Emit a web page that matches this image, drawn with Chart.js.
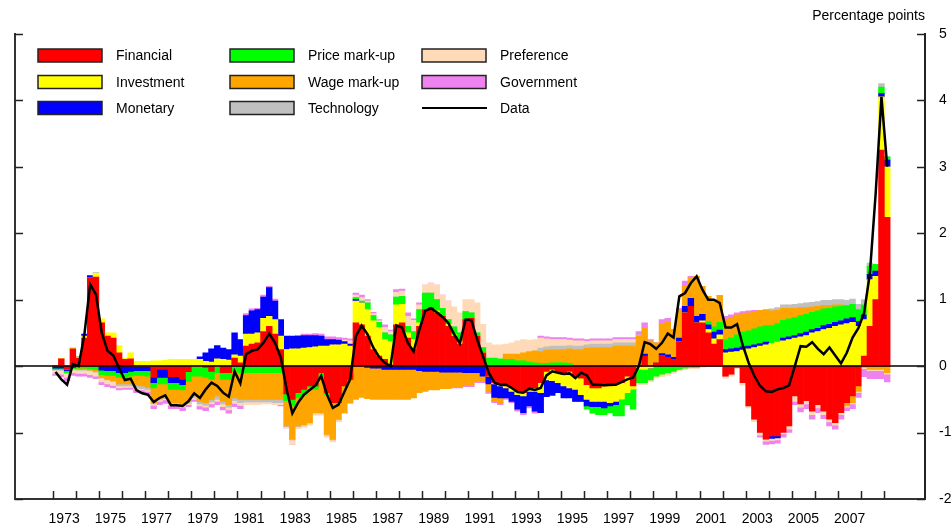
<!DOCTYPE html>
<html>
<head>
<meta charset="utf-8">
<script src="https://cdn.jsdelivr.net/npm/chart.js@4.4.1/dist/chart.umd.min.js"></script>
<style>
  html, body { margin: 0; padding: 0; background: #fff; }
  #grafico { display: block; }
</style>
</head>
<body>
<canvas id="grafico" width="951" height="530"></canvas>
<script>
// quarterly contributions, 1973Q1 .. 2009Q1 (one row per year)
const financial = [
  0, 0.11, -0.05, 0.26,   0.12, 0.42, 1.33, 1.34,   0.65, 0.45, 0.42, 0.2,
  0.1, 0.11, 0, 0,        0, -0.17, -0.05, -0.05,   -0.16, -0.16, -0.2, -0.08,
  0, 0, -0.02, -0.08,     0, -0.1, -0.1, 0.12,      0.05, 0.3, 0.33, 0.35,
  0.52, 0.6, 0.48, 0.25,  -0.42, -0.5, -0.4, -0.35, -0.3, -0.3, -0.1, -0.4,
  -0.55, -0.55, -0.3, -0.2, 0.65, 0.62, 0.45, 0.25, 0.15, 0.1, 0.02, 0.62,
  0.65, 0.42, 0.25, 0.6,  0.85, 0.88, 0.8, 0.75,    0.6, 0.45, 0.33, 0.7,
  0.72, 0.45, 0.2, -0.15, -0.25, -0.28, -0.3, -0.33, -0.38, -0.4, -0.35, -0.33,
  -0.25, -0.08, -0.05, -0.1, -0.12, -0.08, -0.15, -0.18, -0.28, -0.33, -0.33, -0.3,
  -0.3, -0.28, -0.25, -0.15, -0.3, 0, 0.15, 0,      0.05, 0.15, 0.12, 0.1,
  0.37, 0.8, 0.9, 0.65,   0.65, 0.5, 0.33, 0.4,     -0.15, -0.12, -0.02, -0.25,
  -0.6, -0.8, -1.0, -1.1, -1.05, -1.05, -1.0, -0.9, -0.45, -0.57, -0.52, -0.68,
  -0.58, -0.68, -0.8, -0.85, -0.7, -0.55, -0.45, -0.3, 0.15, 0.6, 1.0, 3.25,
  2.24
];
const investment = [
  0, 0, 0, 0.02,          0.02, 0.03, 0, 0.06,      0.06, 0.05, 0.08, 0.11,
  0.02, 0.09, 0.07, 0.07, 0.07, 0.08, 0.08, 0.09,   0.1, 0.1, 0.1, 0.1,
  0.1, 0.1, 0.07, 0.06,   0.11, 0.1, 0.09, 0.05,    0.1, 0.18, 0.15, 0.15,
  0.2, 0.15, 0.22, 0.2,   0.25, 0.26, 0.26, 0.27,   0.28, 0.29, 0.3, 0.3,
  0.32, 0.32, 0.33, 0.3,  0.33, 0.33, 0.4, 0.43,    0.43, 0.3, 0.35, 0.3,
  0.28, 0.08, 0.15, 0.05, 0, 0, 0.03, 0,            0.03, 0.02, 0.05, 0,
  0, 0, 0, 0,             -0.02, -0.02, -0.03, -0.05, -0.05, -0.05, -0.03, -0.05,
  -0.15, -0.13, -0.17, -0.15, -0.18, -0.25, -0.2, -0.25, -0.22, -0.2, -0.2, -0.23,
  -0.25, -0.25, -0.25, -0.25, -0.05, -0.05, -0.05, -0.03, 0, 0, 0, 0,
  0, 0, 0, 0,             0.03, 0.05, 0.08, 0.07,   0.2, 0.21, 0.22, 0.24,
  0.26, 0.28, 0.3, 0.32,  0.34, 0.36, 0.38, 0.4,    0.42, 0.44, 0.46, 0.5,
  0.52, 0.55, 0.57, 0.6,  0.62, 0.64, 0.66, 0.6,    0.55, 0.7, 0.35, 0.8,
  0.76
];
const monetary = [
  -0.03, -0.03, -0.02, -0.02, 0, 0.03, 0.03, 0,     -0.06, -0.07, -0.07, -0.1,
  -0.1, -0.08, -0.07, -0.07, -0.07, -0.08, -0.12, -0.12, -0.09, -0.09, -0.08, 0,
  0, 0.04, 0.13, 0.2,     0.2, 0.17, 0.16, 0.33,    0.25, 0.28, 0.35, 0.35,
  0.32, 0.43, 0.28, 0.25, 0.2, 0.19, 0.19, 0.19,    0.18, 0.17, 0.15, 0.1,
  0.08, 0.07, 0.04, 0.03, 0.02, 0, -0.02, -0.03,    -0.03, -0.05, -0.05, -0.05,
  -0.05, -0.05, -0.05, -0.07, -0.08, -0.08, -0.08, -0.09, -0.09, -0.09, -0.09, -0.1,
  -0.1, -0.1, -0.15, -0.12, -0.2, -0.18, -0.15, -0.15, -0.22, -0.25, -0.22, -0.3,
  -0.3, -0.25, -0.22, -0.15, -0.18, -0.15, -0.18, -0.1, -0.1, -0.08, -0.08, -0.1,
  -0.05, -0.05, 0, 0,     0, 0, 0.03, 0,            0, 0.04, 0.05, 0.03,
  0.05, 0.1, 0.12, 0.1,   0.1, 0.07, 0.1, 0.07,     0.05, 0.05, 0.05, 0.05,
  0.04, 0.04, 0.04, 0.04, -0.04, -0.03, 0.04, 0.04, 0.04, 0.05, 0.05, 0.05,
  0.05, 0.06, 0.06, 0.06, 0.06, 0.07, 0.07, 0.07,   0.07, 0.08, 0.08, 0.05,
  0.1
];
const priceMarkup = [
  -0.02, -0.02, -0.03, -0.02, -0.03, -0.03, -0.04, -0.05, -0.07, -0.07, -0.07, -0.07,
  -0.07, -0.07, -0.07, -0.07, -0.08, -0.08, -0.1, -0.1, -0.1, -0.1, -0.08, -0.15,
  -0.15, -0.15, -0.15, -0.12, -0.1, -0.1, -0.1, -0.08, -0.1, -0.1, -0.1, -0.1,
  -0.1, -0.1, -0.1, -0.1, -0.1, -0.1, -0.08, -0.08,  -0.02, -0.05, -0.08, -0.03,
  0, 0, 0, 0,             0.03, 0.03, 0.1, 0.08,    0.08, 0.1, 0.1, 0.12,
  0.12, 0.1, 0.12, 0.2,   0.25, 0.22, 0.17, 0.12,   0.07, 0.12, 0.12, 0.12,
  0.08, 0.05, 0.08, 0.12, 0.12, 0.11, 0.1, 0.1,     0.08, 0.08, 0.06, 0.05,
  0.04, 0.04, 0.05, 0.05, 0.05, 0.04, 0, 0,         -0.05, -0.1, -0.12, -0.1,
  -0.1, -0.17, -0.25, -0.18, -0.3, -0.2, -0.2, -0.18, -0.15, -0.12, -0.1, -0.08,
  -0.05, -0.03, -0.02, -0.02, 0, 0.05, 0.08, 0.12,  0.15, 0.17, 0.2, 0.22,
  0.23, 0.24, 0.25, 0.25, 0.27, 0.28, 0.27, 0.27,   0.27, 0.27, 0.27, 0.26,
  0.26, 0.25, 0.24, 0.23, 0.22, 0.2, 0.2, 0.18,     0.15, 0.12, 0.1, 0.1,
  0.05
];
const wageMarkup = [
  0, 0, 0, 0,             -0.02, -0.02, -0.02, -0.03, -0.04, -0.06, -0.08, -0.1,
  -0.1, -0.12, -0.15, -0.16, -0.17, -0.22, -0.22, -0.2, -0.2, -0.2, -0.22, -0.3,
  -0.3, -0.38, -0.38, -0.3, -0.35, -0.33, -0.38, -0.4, -0.4, -0.4, -0.4, -0.4,
  -0.4, -0.4, -0.4, -0.4, -0.38, -0.5, -0.42, -0.45, -0.53, -0.35, -0.52, -0.6,
  -0.55, -0.25, -0.4, -0.35, -0.5, -0.47, -0.47, -0.47, -0.47, -0.45, -0.45, -0.45,
  -0.45, -0.45, -0.43, -0.33, -0.3, -0.28, -0.28, -0.25, -0.25, -0.22, -0.22, -0.18,
  -0.18, -0.12, -0.08, -0.12, -0.05, -0.07, 0.08, 0.08, 0.1, 0.12, 0.16, 0.18,
  0.18, 0.2, 0.2, 0.2,    0.2, 0.22, 0.25, 0.25,    0.27, 0.28, 0.28, 0.28,
  0.28, 0.3, 0.3, 0.3,    0.3, 0.45, 0.4, 0.38,     0.3, 0.45, 0.5, 0.42,
  0.43, 0.3, 0.3, 0.6,    0.42, 0.38, 0.4, 0.4,     0.3, 0.3, 0.3, 0.28,
  0.27, 0.26, 0.25, 0.24, 0.22, 0.2, 0.18, 0.16,    0.14, 0.12, 0.1, 0.08,
  0.07, 0.05, 0.04, 0.03, 0.02, -0.05, -0.1, -0.08, -0.02, -0.05, -0.05, -0.05,
  -0.1
];
const technology = [
  -0.01, -0.01, -0.01, -0.01, -0.01, -0.01, -0.01, -0.01, -0.01, -0.01, -0.01, -0.03,
  -0.03, -0.03, -0.04, -0.04, -0.04, -0.02, -0.02, -0.02, -0.02, -0.02, -0.02, -0.03,
  -0.03, -0.04, -0.04, -0.04, -0.05, -0.04, -0.04, -0.04, -0.05, -0.04, -0.04, -0.04,
  -0.04, -0.04, -0.05, -0.05, -0.01, -0.01, -0.01, -0.01, -0.01, -0.01, -0.01, -0.01,
  -0.01, -0.01, -0.01, -0.01, 0, 0, 0, 0,           0, 0, 0, 0,
  0, 0, 0, 0,             0, 0, 0, 0,               0, 0, 0, 0,
  0, 0, 0, 0,             0, 0, 0, 0,               0, 0, 0, 0,
  0.05, 0.05, 0.05, 0.05, 0.05, 0.05, 0.05, 0.05,   0.05, 0.05, 0.05, 0.05,
  0.05, 0.05, 0.05, 0.05, 0.05, 0.02, 0, 0,         0, 0, 0, 0,
  0, 0, 0, 0,             0, 0, 0, 0,               0, 0, 0, 0,
  0, 0, 0, 0,             0.03, 0.04, 0.05, 0.05,   0.06, 0.06, 0.07, 0.07,
  0.07, 0.08, 0.08, 0.08, 0.08, 0.08, 0.08, 0.08,   0.08, 0.05, 0, 0.05,
  0
];
const preference = [
  -0.05, -0.06, -0.06, -0.05, -0.05, -0.05, -0.06, -0.06, -0.06, -0.06, -0.06, -0.03,
  -0.02, -0.02, -0.02, -0.02, -0.02, -0.02, -0.02, -0.02, -0.02, -0.02, -0.02, -0.02,
  -0.02, -0.03, -0.03, -0.03, -0.03, -0.04, -0.04, -0.04, -0.04, -0.04, -0.04, -0.04,
  -0.03, -0.03, -0.03, -0.03, -0.02, -0.07, -0.03, -0.03, -0.03, -0.03, -0.03, -0.03,
  -0.03, -0.03, 0.02, 0.05, 0.04, 0.05, 0.03, 0.03, 0.02, 0.08, 0.05, 0.07,
  0.08, 0.15, 0.17, 0.07, 0.12, 0.15, 0.22, 0.2,    0.28, 0.3, 0.3, 0.18,
  0.2, 0.45, 0.35, 0.23,  0.2, 0.21, 0.15, 0.17,    0.2, 0.2, 0.17, 0.17,
  0.15, 0.12, 0.1, 0.1,   0.1, 0.08, 0.08, 0.08,    0.05, 0.05, 0.05, 0.05,
  0.05, 0.05, 0.05, 0.05, 0.05, -0.03, -0.03, -0.03, -0.03, -0.04, -0.04, -0.03,
  -0.02, -0.02, -0.02, -0.02, -0.02, -0.01, -0.01, -0.01, -0.03, -0.03, -0.02, -0.04,
  -0.03, -0.04, -0.04, -0.03, -0.03, -0.03, -0.02, -0.05, -0.08, -0.05, -0.05, -0.05,
  -0.05, -0.05, -0.04, -0.04, -0.03, -0.02, -0.02, -0.02, -0.02, -0.02, -0.02, -0.02,
  -0.02
];
const government = [
  -0.03, -0.04, -0.05, -0.04, -0.04, -0.04, -0.04, -0.04, -0.04, -0.04, -0.04, -0.03,
  -0.03, -0.03, -0.05, -0.05, -0.05, -0.05, -0.05, -0.05, -0.05, -0.05, -0.05, -0.03,
  -0.03, -0.05, -0.05, -0.05, -0.05, -0.05, -0.05, -0.05, -0.05, 0.03, 0.03, 0.02,
  0.03, 0.02, 0.03, -0.02, 0, 0, 0.01, 0.02,        0.02, 0.03, 0.03, 0.04,
  0.04, 0.04, 0.03, 0.03, 0.03, 0.04, 0.02, 0.02,   0.02, 0.04, 0.02, 0.04,
  0.03, 0.05, 0.02, 0.03, 0, 0, 0, 0,               0, -0.02, -0.02, -0.03,
  -0.03, -0.03, -0.02, -0.02, -0.03, -0.03, -0.02, -0.02, -0.03, -0.03, -0.03, -0.03,
  0.03, 0.03, 0.03, 0.03, 0.03, 0.03, 0.03, 0.03,   0.03, 0.03, 0.03, 0.03,
  0.03, 0.03, 0.03, 0.03, 0.03, 0.05, 0.07, 0.02,   0, 0.06, 0.05, 0,
  0.02, 0.08, 0.03, 0,    0, 0, 0, 0,               0.05, 0.04, 0.03, 0.03,
  0.03, 0.02, -0.03, -0.05, -0.05, -0.05, -0.05, -0.05, -0.05, -0.07, -0.07, -0.07,
  -0.07, -0.06, -0.06, -0.06, -0.07, -0.05, -0.07, -0.07, -0.12, -0.12, -0.12, -0.12,
  -0.12
];
const observed = [
  -0.09, -0.2, -0.28, 0.03, 0.0, 0.48, 1.23, 1.08,  0.5, 0.23, 0.16, -0.03,
  -0.21, -0.19, -0.36, -0.41, -0.43, -0.54, -0.48, -0.44, -0.59, -0.59, -0.6, -0.53,
  -0.41, -0.48, -0.35, -0.25, -0.3, -0.4, -0.46, -0.08, -0.26, 0.18, 0.23, 0.25,
  0.35, 0.49, 0.35, 0.13, -0.35, -0.71, -0.55, -0.43, -0.36, -0.29, -0.15, -0.43,
  -0.63, -0.58, -0.39, -0.2, 0.45, 0.61, 0.48, 0.28, 0.14, 0.05, 0.0, 0.61,
  0.58, 0.35, 0.22, 0.55, 0.83, 0.87, 0.81, 0.74,   0.65, 0.48, 0.34, 0.7,
  0.69, 0.4, 0.15, -0.1,  -0.25, -0.28, -0.28, -0.33, -0.39, -0.4, -0.34, -0.36,
  -0.33, -0.14, -0.08, -0.1, -0.12, -0.11, -0.18, -0.1, -0.14, -0.28, -0.28, -0.29,
  -0.28, -0.28, -0.24, -0.2, -0.17, 0.0, 0.36, 0.33, 0.26, 0.35, 0.49, 0.43,
  1.05, 1.1, 1.25, 1.35,  1.15, 1.0, 1.0, 0.95,     0.58, 0.58, 0.63, 0.31,
  0.05, -0.15, -0.3, -0.38, -0.39, -0.35, -0.33, -0.29, 0.0, 0.3, 0.29, 0.36,
  0.26, 0.18, 0.28, 0.16, 0.04, 0.2, 0.43, 0.57,    0.8, 1.4, 2.6, 4.05,
  3.0
];

const firstYear = 1973;
const tickYears = [];
for (let a = 1973; a <= 2009; a++) tickYears.push(a);
const tickLabels = ['1973', '1975', '1977', '1979', '1981', '1983', '1985', '1987', '1989',
  '1991', '1993', '1995', '1997', '1999', '2001', '2003', '2005', '2007'];
const yTicks = [-2, -1, 0, 1, 2, 3, 4, 5];

const series = [
  { label: 'Financial', data: financial, cor: '#ff0000' },
  { label: 'Investment', data: investment, cor: '#ffff00' },
  { label: 'Monetary', data: monetary, cor: '#0000ff' },
  { label: 'Price mark-up', data: priceMarkup, cor: '#00ff00' },
  { label: 'Wage mark-up', data: wageMarkup, cor: '#ffa500' },
  { label: 'Technology', data: technology, cor: '#c0c0c0' },
  { label: 'Preference', data: preference, cor: '#ffdab9' },
  { label: 'Government', data: government, cor: '#ee82ee' }
];

// centre of each quarter, in years
const quarter = i => firstYear + (i + 0.5) / 4;

const datasets = series.map(s => ({
  type: 'bar',
  label: s.label,
  data: s.data.map((v, i) => ({ x: quarter(i), y: v })),
  backgroundColor: s.cor,
  borderWidth: 0,
  barPercentage: 1,
  categoryPercentage: 1,
  yAxisID: 'y',
  order: 1
}));

datasets.push({
  type: 'line',
  label: 'Data',
  data: observed.map((v, i) => ({ x: quarter(i), y: v })),
  borderColor: '#000',
  borderWidth: 2.5,
  pointRadius: 0,
  tension: 0,
  yAxisID: 'yData',
  order: 0
});

const fonte = "'Liberation Sans', Arial, sans-serif";

// zero line, inward ticks and the 3x3 legend
const extras = {
  id: 'extras',
  beforeDatasetDraw(chart, args) {
    if (args.meta.type !== 'line') return;
    const { ctx, chartArea, scales } = chart;
    const y0 = scales.y.getPixelForValue(0);
    ctx.save();
    ctx.strokeStyle = '#000';
    ctx.lineWidth = 1.5;
    ctx.beginPath();
    ctx.moveTo(chartArea.left, y0);
    ctx.lineTo(chartArea.right, y0);
    ctx.stroke();
    ctx.restore();
  },
  afterDraw(chart) {
    const { ctx, chartArea, scales } = chart;
    ctx.save();
    ctx.strokeStyle = '#222';
    ctx.lineWidth = 1.5;
    ctx.beginPath();
    tickYears.forEach(a => {
      const px = Math.round(scales.x.getPixelForValue(a)) + 0.5;
      ctx.moveTo(px, chartArea.bottom);
      ctx.lineTo(px, chartArea.bottom - 8);
    });
    yTicks.forEach(v => {
      const py = Math.round(scales.y.getPixelForValue(v)) + 0.5;
      ctx.moveTo(chartArea.left, py);
      ctx.lineTo(chartArea.left + 8, py);
      ctx.moveTo(chartArea.right, py);
      ctx.lineTo(chartArea.right - 8, py);
    });
    ctx.stroke();

    // legend
    const colX = [38, 230, 422];
    const rowY = [55.5, 82, 108];
    ctx.font = '14px ' + fonte;
    ctx.textBaseline = 'middle';
    ctx.textAlign = 'left';
    chart.data.datasets.forEach((d, i) => {
      const x = colX[Math.floor(i / 3)];
      const y = rowY[i % 3];
      if (d.type === 'line') {
        ctx.strokeStyle = '#000';
        ctx.lineWidth = 2;
        ctx.beginPath();
        ctx.moveTo(x, y);
        ctx.lineTo(x + 65, y);
        ctx.stroke();
      } else {
        ctx.fillStyle = d.backgroundColor;
        ctx.fillRect(x, y - 6.5, 64, 13);
        ctx.strokeStyle = '#222';
        ctx.lineWidth = 1.5;
        ctx.strokeRect(x, y - 6.5, 64, 13);
      }
      ctx.fillStyle = '#000';
      ctx.fillText(d.label, x + 78, y + 1);
    });
    ctx.restore();
  }
};

new Chart(document.getElementById('grafico'), {
  data: { datasets },
  plugins: [extras],
  options: {
    responsive: false,
    animation: false,
    devicePixelRatio: 1,
    layout: { padding: { left: 15, right: 0, top: 0, bottom: 0 } },
    plugins: {
      legend: { display: false },
      tooltip: { enabled: false },
      title: {
        display: true,
        text: 'Percentage points',
        align: 'end',
        fullSize: false,
        color: '#000',
        font: { family: fonte, size: 14, weight: 'normal' },
        padding: { top: 8, bottom: 9 }
      }
    },
    scales: {
      x: {
        type: 'linear',
        min: 1971.37,
        max: 2010.76,
        stacked: true,
        offset: false,
        grid: { display: false, drawTicks: false },
        border: { display: true, color: '#333', width: 2 },
        afterBuildTicks: scale => { scale.ticks = tickYears.map(v => ({ value: v })); },
        afterFit: scale => { scale.height = 31; },
        ticks: {
          autoSkip: false,
          maxRotation: 0,
          labelOffset: 11.5,
          padding: 12,
          color: '#000',
          font: { family: fonte, size: 14 },
          callback: v => tickLabels.includes(String(v)) ? String(v) : ''
        }
      },
      y: {
        min: -2,
        max: 5,
        stacked: true,
        grid: { display: false, drawTicks: false },
        border: { display: true, color: '#333', width: 2 },
        afterFit: scale => { scale.width = 0; },
        ticks: { display: false, stepSize: 1 }
      },
      yData: {
        display: false,
        min: -2,
        max: 5
      },
      y2: {
        position: 'right',
        min: -2,
        max: 5,
        grid: { display: false, drawTicks: false },
        border: { display: true, color: '#222', width: 2 },
        afterBuildTicks: scale => { scale.ticks = yTicks.map(v => ({ value: v })); },
        afterFit: scale => { scale.width = 26; },
        ticks: {
          padding: 14,
          color: '#000',
          font: { family: fonte, size: 14 }
        }
      }
    }
  }
});
</script>
</body>
</html>
